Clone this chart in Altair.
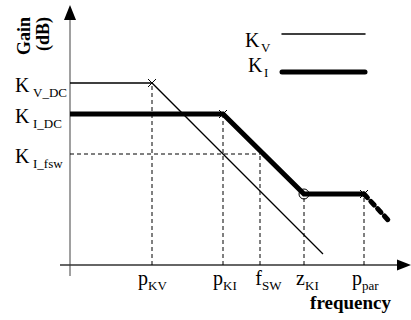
import altair as alt
import pandas as pd

FONT = "Liberation Serif"

# ---- data (abstract units: x = log-frequency position, y = gain) ----
freq_main = ["p", "p", "f", "z", "p"]
freq_sub = ["KV", "KI", "SW", "KI", "par"]
freq_pos = [82, 153, 190, 234, 294]
freq_gain = [182, 151, 111, 71, 71]

gain_main = ["K", "K", "K"]
gain_sub = ["V_DC", "I_DC", "I_fsw"]
gain_levels = [182, 151, 111]

kv_x = [0, 82, 253]
kv_y = [182, 182, 11]
ki_x = [0, 153, 234, 294]
ki_y = [151, 151, 71, 71]
ki_ext_x = [294, 319]
ki_ext_y = [71, 44]

pole_x = [82, 153, 294]
pole_y = [182, 151, 71]
zero_x = [234]
zero_y = [71]

fsw_level = 111
fsw_pos = 190

# ---- layout helpers ----
label_shift = [-4, 0, 2, 1, -2]
xs = alt.Scale(domain=[-70, 341], nice=False, zero=False)
ys = alt.Scale(domain=[-55, 265], nice=False, zero=False)


def X(f="x"):
    return alt.X(f"{f}:Q", scale=xs, axis=None)


def Y(f="y"):
    return alt.Y(f"{f}:Q", scale=ys, axis=None)


layers = []

# axes
yaxis = pd.DataFrame({"x": [0, 0], "y": [-11, 247]})
xaxis = pd.DataFrame({"x": [-10, 328], "y": [0, 0]})
layers.append(alt.Chart(yaxis).mark_line(color="#808080", strokeWidth=1.5).encode(x=X(), y=Y()))
layers.append(alt.Chart(xaxis).mark_line(color="#333333", strokeWidth=1.5).encode(x=X(), y=Y()))
layers.append(alt.Chart(pd.DataFrame({"x": [0], "y": [252.5]})).mark_point(
    shape="M 0 -1 L 0.8 1 L -0.8 1 Z", size=225, filled=True, color="black", opacity=1
).encode(x=X(), y=Y()))
layers.append(alt.Chart(pd.DataFrame({"x": [334], "y": [0]})).mark_point(
    shape="M 1 0 L -1 0.8 L -1 -0.8 Z", size=196, filled=True, color="black", opacity=1
).encode(x=X(), y=Y()))

# guides
guides = pd.DataFrame({"x": freq_pos, "y": [0] * 5, "y2": freq_gain})
layers.append(alt.Chart(guides).mark_rule(color="black", strokeWidth=1, strokeDash=[4, 3]).encode(
    x=X(), y=Y(), y2="y2:Q"))
hguide = pd.DataFrame({"x": [0], "x2": [fsw_pos], "y": [fsw_level]})
layers.append(alt.Chart(hguide).mark_rule(color="black", strokeWidth=1, strokeDash=[4, 3]).encode(
    x=X(), x2="x2:Q", y=Y()))

# curves
layers.append(alt.Chart(pd.DataFrame({"x": kv_x, "y": kv_y})).mark_line(
    color="black", strokeWidth=1.3).encode(x=X(), y=Y()))
layers.append(alt.Chart(pd.DataFrame({"x": ki_x, "y": ki_y})).mark_line(
    color="black", strokeWidth=5).encode(x=X(), y=Y()))
layers.append(alt.Chart(pd.DataFrame({"x": ki_ext_x, "y": ki_ext_y})).mark_line(
    color="black", strokeWidth=5, strokeDash=[5, 5], strokeCap="round").encode(x=X(), y=Y()))

# markers
layers.append(alt.Chart(pd.DataFrame({"x": pole_x, "y": pole_y})).mark_point(
    shape="M -1 -1 L 1 1 M -1 1 L 1 -1", size=64, filled=False, color="black",
    strokeWidth=1, opacity=1).encode(x=X(), y=Y()))
layers.append(alt.Chart(pd.DataFrame({"x": zero_x, "y": zero_y})).mark_point(
    shape="circle", size=100, filled=False, color="black", strokeWidth=1, opacity=1
).encode(x=X(), y=Y()))

# gain labels
gdf = pd.DataFrame({"y": gain_levels, "main": gain_main, "sub": gain_sub})
layers.append(alt.Chart(gdf).mark_text(font=FONT, fontSize=20, align="left", baseline="alphabetic",
                                       dy=9, color="black").encode(
    x=alt.value(15), y=Y(), text="main:N"))
layers.append(alt.Chart(gdf).mark_text(font=FONT, fontSize=13, align="left", baseline="alphabetic",
                                       dy=14, color="black").encode(
    x=alt.value(33), y=Y(), text="sub:N"))

# frequency labels
fdf = pd.DataFrame({"x": freq_pos, "shift": label_shift, "main": freq_main, "sub": freq_sub})
base_f = alt.Chart(fdf).transform_calculate(xl="datum.x + datum.shift")
layers.append(base_f.mark_text(font=FONT, fontSize=20, align="right", baseline="alphabetic",
                               color="black").encode(
    x=X("xl"), y=alt.value(285), text="main:N"))
layers.append(base_f.mark_text(font=FONT, fontSize=13, align="left", baseline="alphabetic",
                               color="black").encode(
    x=X("xl"), y=alt.value(290), text="sub:N"))

# axis titles
layers.append(alt.Chart(pd.DataFrame({"t": ["frequency"]})).mark_text(
    font=FONT, fontSize=19, fontWeight="bold", align="right", baseline="alphabetic", color="black"
).encode(x=alt.value(391), y=alt.value(309), text="t:N"))
title_df = pd.DataFrame({"t": ["Gain", "(dB)"], "xp": [30, 49], "yp": [36, 34]})
layers.append(alt.Chart(title_df).mark_text(
    font=FONT, fontSize=18, fontWeight="bold", align="center", baseline="alphabetic",
    color="black").encode(
    x=alt.X("xp:Q", scale=None), y=alt.Y("yp:Q", scale=None), text="t:N", angle=alt.value(270)))

# legend
leg_y = [231, 193]
leg_w = [1.5, 5]
leg_main_x = [245, 248]
leg_main_dy = [13, 0]
for i, (sub, lw) in enumerate(zip(["V", "I"], leg_w)):
    ld = pd.DataFrame({"x": [212, 295], "y": [leg_y[i]] * 2})
    layers.append(alt.Chart(ld).mark_line(color="black", strokeWidth=lw, strokeCap="round").encode(
        x=X(), y=Y()))
    td = pd.DataFrame({"y": [leg_y[i]], "main": ["K"], "sub": [sub]})
    layers.append(alt.Chart(td).mark_text(font=FONT, fontSize=20, align="left", baseline="alphabetic",
                                          dy=leg_main_dy[i], color="black").encode(
        x=alt.value(leg_main_x[i]), y=Y(), text="main:N"))
    layers.append(alt.Chart(td).mark_text(font=FONT, fontSize=13, align="left", baseline="alphabetic",
                                          dy=leg_main_dy[i] + 5, color="black").encode(
        x=alt.value(leg_main_x[i] + 16), y=Y(), text="sub:N"))

chart = alt.layer(*layers).properties(
    width=411, height=320, padding=0, autosize=alt.AutoSizeParams(type="none")
).configure_view(stroke=None)

chart.save("out.html", embed_options={"renderer": "svg", "actions": False})
